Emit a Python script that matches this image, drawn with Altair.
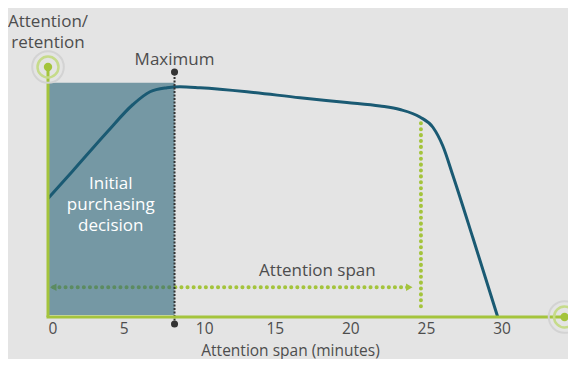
import altair as alt
import pandas as pd

# ---- data ----
curve_min = [0, 1.65, 3.90, 5.62, 6.75, 7.87, 8.73, 10.05, 13.16, 16.67, 19.77,
             21.96, 23.28, 24.60, 25.46, 26.12, 26.79, 28.11, 29.75]
curve_att = [47.4, 58.5, 73.9, 85.0, 90.1, 91.7, 92.1, 91.7, 90.1, 87.7, 85.8,
             84.4, 83.0, 80.0, 75.9, 68.4, 56.5, 31.6, 0]
tick_values = [0, 5, 10, 15, 20, 25, 30]

max_minute = 8.37           # "Maximum" / end of initial decision
decision_top = 93.7
span_end = 24.67            # end of attention span
span_top = 78.3
span_bottom = 4.3
arrow_y = 11.9
arrow_start = 0.35
arrow_end = 23.9
x_max = 34.2
y_max = 100

FONT = "Open Sans"
GREEN = "#a4c43c"
TEAL = "#1a5a73"
GREY_TXT = "#4d4d4d"

xs = alt.Scale(domain=[0, x_max], nice=False, zero=False)
ys = alt.Scale(domain=[0, y_max], nice=False, zero=False)

X_AXIS = alt.Axis(
    values=tick_values, title="Attention span (minutes)", domain=False, ticks=False, grid=False,
    labelFont=FONT, labelFontSize=15.5, labelColor=GREY_TXT, labelPadding=4,
    labelOffset={"condition": {"test": "datum.value === 10", "value": 5}, "value": 0},
    titleFont=FONT, titleFontSize=15.5, titleFontWeight="normal", titleColor=GREY_TXT,
    titleX=242, titleY=38, titleBaseline="alphabetic", titleAlign="center")


def X(field="m"):
    return alt.X(f"{field}:Q", scale=xs, axis=X_AXIS)


def Y(field="a"):
    return alt.Y(f"{field}:Q", scale=ys, axis=None)


curve_df = pd.DataFrame({"m": curve_min, "a": curve_att})

# attention-span arrow (below the shaded rect)
arrow_line = alt.Chart(pd.DataFrame({"m": [arrow_start, arrow_end], "a": [arrow_y, arrow_y]})).mark_line(
    color=GREEN, strokeWidth=4, strokeDash=[0.1, 6], strokeCap="round").encode(x=X(), y=Y())
arrow_left = alt.Chart(pd.DataFrame({"m": [arrow_start], "a": [arrow_y]})).mark_point(
    shape="triangle-left", filled=True, color=GREEN, size=55, opacity=1).encode(x=X(), y=Y())
arrow_right = alt.Chart(pd.DataFrame({"m": [arrow_end], "a": [arrow_y]})).mark_point(
    shape="triangle-right", filled=True, color=GREEN, size=55, opacity=1).encode(x=X(), y=Y())

# shaded initial decision rect
rect = alt.Chart(pd.DataFrame({"m": [0], "m2": [max_minute], "a": [0.8], "a2": [decision_top]})).mark_rect(
    color="#2b6579", opacity=0.6).encode(x=X(), x2="m2:Q", y=Y(), y2="a2:Q")

curve = alt.Chart(curve_df).mark_line(color=TEAL, strokeWidth=3, interpolate="monotone").encode(
    x=X(), y=Y())

span_vline = alt.Chart(pd.DataFrame({"m": [span_end], "a": [span_bottom], "a2": [span_top]})).mark_rule(
    color=GREEN, strokeWidth=4, strokeDash=[0.1, 5.8], strokeCap="round").encode(
    x=X(), y=Y(), y2="a2:Q")

max_line = alt.Chart(pd.DataFrame({"m": [max_minute], "a": [-2.8], "a2": [98.0]})).mark_rule(
    color="#333333", strokeWidth=2, strokeDash=[2, 1.5]).encode(x=X(), y=Y(), y2="a2:Q")
max_dots = alt.Chart(pd.DataFrame({"m": [max_minute, max_minute], "a": [-2.8, 98.0]})).mark_point(
    filled=True, color="#333333", size=50, opacity=1).encode(x=X(), y=Y())

# green axis lines
y_rule = alt.Chart(pd.DataFrame({"m": [0], "a": [0], "a2": [y_max]})).mark_rule(
    color=GREEN, strokeWidth=3).encode(x=X(), y=Y(), y2="a2:Q")
x_rule = alt.Chart(pd.DataFrame({"m": [-0.1], "m2": [x_max - 0.03], "a": [0]})).mark_rule(
    color=GREEN, strokeWidth=3).encode(x=X(), x2="m2:Q", y=Y())

# end markers (target circles)
ends = pd.DataFrame({"m": [0, x_max - 0.03], "a": [y_max, 0]})
outer_ring = alt.Chart(ends).mark_point(shape="circle", filled=False, color="#d3d3d3",
                                         strokeWidth=2, size=1000, opacity=1).encode(x=X(), y=Y())
inner_ring = alt.Chart(ends).mark_point(shape="circle", filled=False, color="#c6db8a",
                                         strokeWidth=2.5, size=440, opacity=1).encode(x=X(), y=Y())
center_dot = alt.Chart(ends).mark_point(shape="circle", filled=True, color=GREEN,
                                         size=70, opacity=1).encode(x=X(), y=Y())

# annotations
grey_txt = pd.DataFrame({
    "m": [0, max_minute, 17.82],
    "a": [116.0, 101.0, 16.6],
    "t": ["Attention/\nretention", "Maximum", "Attention span"],
})
grey_text = alt.Chart(grey_txt).mark_text(font=FONT, fontSize=17, color=GREY_TXT,
                                          align="center", baseline="alphabetic",
                                          lineBreak="\n", lineHeight=21).encode(
    x=X(), y=Y(), text="t:N")

white_txt = pd.DataFrame({
    "m": [4.15],
    "a": [51.4],
    "t": ["Initial\npurchasing\ndecision"],
})
white_text = alt.Chart(white_txt).mark_text(font=FONT, fontSize=17, color="white",
                                            align="center", baseline="alphabetic",
                                            lineBreak="\n", lineHeight=21).encode(
    x=X(), y=Y(), text="t:N")

chart = alt.layer(
    arrow_line, arrow_left, arrow_right, rect, curve, span_vline,
    max_line, y_rule, x_rule, outer_ring, inner_ring, center_dot, max_dots,
    grey_text, white_text,
).properties(
    width=517, height=250,
    autosize="none",
    padding={"left": 40, "top": 59, "right": 3, "bottom": 42},
    background="#e4e4e4",
).configure_view(strokeWidth=0)

chart.save("out.html", embed_options={"renderer": "svg", "actions": False})
